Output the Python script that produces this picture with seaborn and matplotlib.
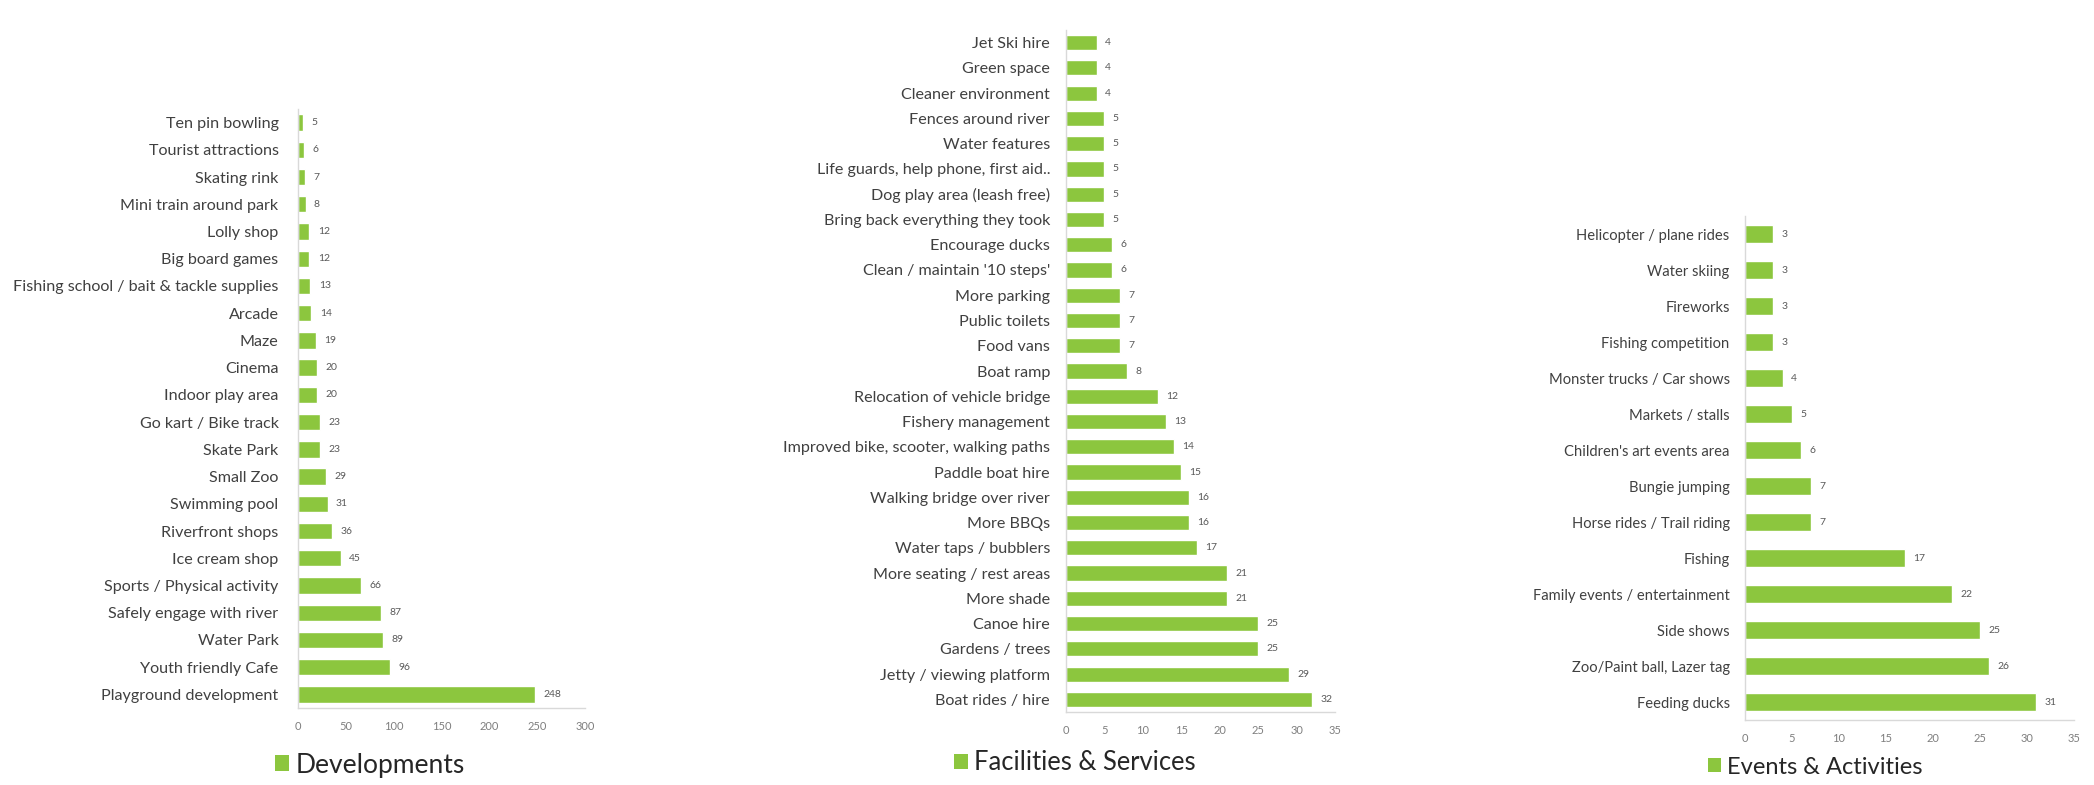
import matplotlib
matplotlib.use("Agg")
import matplotlib.pyplot as plt
from matplotlib.patches import Patch
import seaborn as sns
import pandas as pd

# --- Developments ---
dev_labels = [
    "Ten pin bowling", "Tourist attractions", "Skating rink", "Mini train around park",
    "Lolly shop", "Big board games", "Fishing school / bait & tackle supplies", "Arcade",
    "Maze", "Cinema", "Indoor play area", "Go kart / Bike track", "Skate Park", "Small Zoo",
    "Swimming pool", "Riverfront shops", "Ice cream shop", "Sports / Physical activity",
    "Safely engage with river", "Water Park", "Youth friendly Cafe", "Playground development",
]
dev_values = [5, 6, 7, 8, 12, 12, 13, 14, 19, 20, 20, 23, 23, 29, 31, 36, 45, 66, 87, 89, 96, 248]
dev_ticks = [0, 50, 100, 150, 200, 250, 300]

# --- Facilities & Services ---
fac_labels = [
    "Jet Ski hire", "Green space", "Cleaner environment", "Fences around river",
    "Water features", "Life guards, help phone, first aid..", "Dog play area (leash free)",
    "Bring back everything they took", "Encourage ducks", "Clean / maintain '10 steps'",
    "More parking", "Public toilets", "Food vans", "Boat ramp", "Relocation of vehicle bridge",
    "Fishery management", "Improved bike, scooter, walking paths", "Paddle boat hire",
    "Walking bridge over river", "More BBQs", "Water taps / bubblers",
    "More seating / rest areas", "More shade", "Canoe hire", "Gardens / trees",
    "Jetty / viewing platform", "Boat rides / hire",
]
fac_values = [4, 4, 4, 5, 5, 5, 5, 5, 6, 6, 7, 7, 7, 8, 12, 13, 14, 15, 16, 16, 17, 21, 21, 25, 25, 29, 32]
fac_ticks = [0, 5, 10, 15, 20, 25, 30, 35]

# --- Events & Activities ---
evt_labels = [
    "Helicopter / plane rides", "Water skiing", "Fireworks", "Fishing competition",
    "Monster trucks / Car shows", "Markets / stalls", "Children's art events area",
    "Bungie jumping", "Horse rides / Trail riding", "Fishing", "Family events / entertainment",
    "Side shows", "Zoo/Paint ball, Lazer tag", "Feeding ducks",
]
evt_values = [3, 3, 3, 3, 4, 5, 6, 7, 7, 17, 22, 25, 26, 31]
evt_ticks = [0, 5, 10, 15, 20, 25, 30, 35]

GREEN = "#8cc63e"
LABEL_COLOR = "#404040"
AXIS_COLOR = "#d9d9d9"

sns.set_theme(style="white")
plt.rcParams["font.family"] = ["Lato", "DejaVu Sans"]

W, H = 2094, 785
fig = plt.figure(figsize=(W / 100, H / 100), dpi=100)
fig.patch.set_facecolor("white")


def panel(px_left, px_right, px_top, px_bottom, labels, values, ticks, title,
          legend_xy, label_size, title_size, width, pad):
    ax = fig.add_axes([px_left / W, 1 - px_bottom / H,
                       (px_right - px_left) / W, (px_bottom - px_top) / H])
    df = pd.DataFrame({"item": labels, "count": values})
    sns.barplot(data=df, x="count", y="item", orient="h", color=GREEN,
                width=width, saturation=1, ax=ax)
    ax.set_xlim(ticks[0], ticks[-1])
    ax.set_xticks(ticks)
    ax.set_xlabel("")
    ax.set_ylabel("")
    ax.tick_params(axis="y", length=0, pad=pad, labelsize=label_size, labelcolor=LABEL_COLOR)
    ax.tick_params(axis="x", length=0, pad=9, labelsize=8, labelcolor="#7f7f7f")
    for side in ("top", "right"):
        ax.spines[side].set_visible(False)
    for side in ("left", "bottom"):
        ax.spines[side].set_color(AXIS_COLOR)
        ax.spines[side].set_linewidth(1.0)
    ax.bar_label(ax.containers[0], labels=[str(v) for v in values], padding=6,
                 fontsize=7.5, color="#595959")
    ax.grid(False)
    handle = Patch(facecolor=GREEN, edgecolor="none", label=title)
    fig.legend(handles=[handle], loc="center",
               bbox_to_anchor=(legend_xy[0] / W, 1 - legend_xy[1] / H),
               frameon=False, fontsize=title_size, handlelength=0.55, handleheight=0.55,
               handletextpad=0.25, labelcolor="#262626")
    return ax


panel(298, 585, 109, 708, dev_labels, dev_values, dev_ticks, "Developments",
      (370, 765), 11.6, 19, 0.6, 14)
panel(1066, 1335, 30, 712, fac_labels, fac_values, fac_ticks, "Facilities & Services",
      (1075, 763), 11.6, 18.4, 0.6, 11.5)
panel(1745, 2074, 216, 720, evt_labels, evt_values, evt_ticks, "Events & Activities",
      (1815, 767), 10.6, 17, 0.52, 11)

fig.savefig("out.png", dpi=100, facecolor="white")
